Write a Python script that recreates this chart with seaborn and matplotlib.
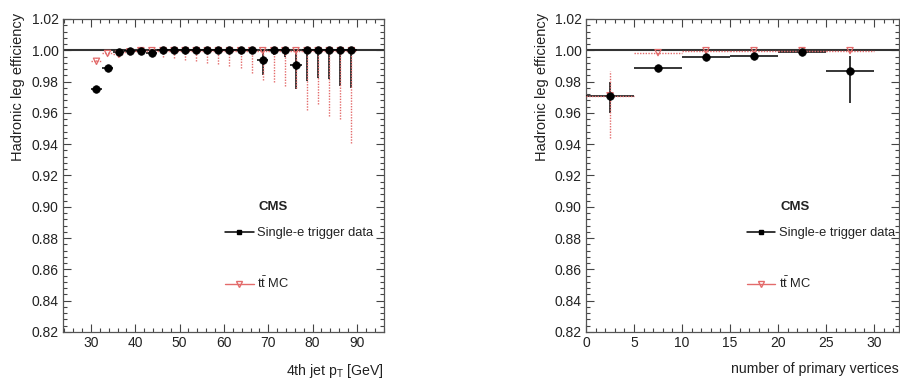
import numpy as np
import pandas as pd
import matplotlib
matplotlib.use("Agg")
import matplotlib.pyplot as plt
import seaborn as sns
from matplotlib.ticker import MultipleLocator, FormatStrFormatter
from matplotlib.lines import Line2D

# ---------------- data: left panel (4th jet pT) ----------------
pt_centers = [31.25, 33.75, 36.25, 38.75, 41.25, 43.75, 46.25, 48.75, 51.25, 53.75,
              56.25, 58.75, 61.25, 63.75, 66.25, 68.75, 71.25, 73.75, 76.25, 78.75,
              81.25, 83.75, 86.25, 88.75]
pt_halfwidth = [1.25] * 24
pt_data = [0.975, 0.989, 0.999, 0.9995, 0.9998, 0.998, 1.000, 1.000, 1.000, 1.000,
           1.000, 1.000, 1.000, 1.000, 1.000, 0.994, 1.000, 1.000, 0.9905, 1.000,
           1.000, 1.000, 1.000, 1.000]
pt_data_lo = [0.0015, 0.0012, 0.001, 0.0008, 0.0006, 0.001, 0.0003, 0.0004, 0.0005, 0.0005,
              0.0006, 0.0008, 0.001, 0.0012, 0.0015, 0.010, 0.003, 0.004, 0.0155, 0.0196,
              0.0174, 0.0185, 0.023, 0.024]
pt_data_hi = [0.0015, 0.0012, 0.001, 0.0005, 0.0002, 0.001, 0, 0, 0, 0,
              0, 0, 0, 0, 0, 0.006, 0, 0, 0.0095, 0,
              0, 0, 0, 0]
pt_mc = [0.993, 0.998, 0.9975, 0.999, 0.9998, 0.9998, 0.9998, 0.9998, 0.9998, 0.9998,
         0.9998, 0.9998, 0.9998, 0.9998, 0.9998, 0.9998, 0.9998, 0.9998, 0.9998, 0.9998,
         0.9998, 0.9998, 0.9998, 0.9998]
pt_mc_lo = [0.002, 0.001, 0.002, 0.001, 0.001, 0.002, 0.004, 0.0047, 0.0057, 0.0068,
            0.0079, 0.0083, 0.010, 0.011, 0.0143, 0.0185, 0.020, 0.0223, 0.024, 0.0377,
            0.0338, 0.042, 0.044, 0.059]
pt_mc_hi = [0.002, 0.001, 0.001, 0.0005, 0.0002, 0.0002, 0.0002, 0.0002, 0.0002, 0.0002,
            0.0002, 0.0002, 0.0002, 0.0002, 0.0002, 0.0002, 0.0002, 0.0002, 0.0002, 0.0002,
            0.0002, 0.0002, 0.0002, 0.0002]

# ---------------- data: right panel (number of primary vertices) ----------------
nv_centers = [2.5, 7.5, 12.5, 17.5, 22.5, 27.5]
nv_halfwidth = [2.5] * 6
nv_data = [0.9705, 0.9885, 0.996, 0.9965, 0.999, 0.987]
nv_data_lo = [0.0105, 0.0008, 0.0006, 0.0006, 0.0015, 0.0205]
nv_data_hi = [0.0095, 0.0008, 0.0006, 0.0006, 0.001, 0.0095]
nv_mc = [0.971, 0.9985, 0.9998, 0.9998, 0.9998, 0.9998]
nv_mc_lo = [0.027, 0.001, 0.0005, 0.0005, 0.0008, 0.001]
nv_mc_hi = [0.016, 0.0008, 0.0002, 0.0002, 0.0002, 0.0002]

DATA_LABEL = "Single-e trigger data"
MC_LABEL = r"$\mathrm{t\bar{t}}$ MC"
YLABEL = "Hadronic leg efficiency"

sns.set_theme(style="ticks")
plt.rcParams["font.family"] = ["Liberation Sans", "DejaVu Sans"]
plt.rcParams["mathtext.fontset"] = "custom"
plt.rcParams["mathtext.rm"] = "Liberation Sans"
plt.rcParams["mathtext.it"] = "Liberation Sans:italic"
plt.rcParams["mathtext.bf"] = "Liberation Sans:bold"

MC_COLOR = "#e36b6b"
TXT = "#222222"

fig = plt.figure(figsize=(9, 3.79), dpi=100)
ax1 = fig.add_axes([63 / 900, 47 / 379, 321 / 900, 313 / 379])
ax2 = fig.add_axes([586 / 900, 47 / 379, 313 / 900, 313 / 379])


def draw_panel(ax, x, xw, yd, ydlo, ydhi, ym, ymlo, ymhi):
    df_d = pd.DataFrame({"x": x, "y": yd})
    df_m = pd.DataFrame({"x": x, "y": ym})
    ax.axhline(1.0, color="#333333", lw=1.5, zorder=1)
    # data error bars
    ax.errorbar(x, yd, xerr=xw, yerr=[ydlo, ydhi], fmt="none", ecolor="black",
                elinewidth=1.1, capsize=0, zorder=3)
    # MC markers (below data markers)
    sns.scatterplot(data=df_m, x="x", y="y", ax=ax, marker="v", s=20,
                    color=MC_COLOR, zorder=4, legend=False)
    pts = ax.collections[-1]
    pts.set_facecolor("none")
    pts.set_edgecolor(MC_COLOR)
    pts.set_linewidth(0.9)
    # MC error bars (dotted)
    eb = ax.errorbar(x, ym, xerr=xw, yerr=[ymlo, ymhi], fmt="none", ecolor=MC_COLOR,
                     elinewidth=1.0, capsize=0, zorder=5)
    for lc in eb[2]:
        lc.set_linestyle((0, (1, 1)))
    # data markers
    sns.scatterplot(data=df_d, x="x", y="y", ax=ax, color="black", marker="o",
                    s=30, edgecolor="black", linewidth=0.5, zorder=6, legend=False)


draw_panel(ax1, pt_centers, pt_halfwidth, pt_data, pt_data_lo, pt_data_hi,
           pt_mc, pt_mc_lo, pt_mc_hi)
draw_panel(ax2, nv_centers, nv_halfwidth, nv_data, nv_data_lo, nv_data_hi,
           nv_mc, nv_mc_lo, nv_mc_hi)

ax1.set_xlim(23.7, 96.1)
ax2.set_xlim(0, 32.6)
ax1.xaxis.set_major_locator(MultipleLocator(10))
ax1.xaxis.set_minor_locator(MultipleLocator(2))
ax2.xaxis.set_major_locator(MultipleLocator(5))
ax2.xaxis.set_minor_locator(MultipleLocator(1))

for ax, cms_x, leg_x, xl in [(ax1, 0.654, 0.505, r"4th jet p$_{\mathrm{T}}$ [GeV]"),
                             (ax2, 0.668, 0.514, "number of primary vertices")]:
    ax.set_ylim(0.82, 1.02)
    ax.yaxis.set_major_locator(MultipleLocator(0.02))
    ax.yaxis.set_minor_locator(MultipleLocator(0.004))
    ax.yaxis.set_major_formatter(FormatStrFormatter("%.2f"))
    ax.tick_params(which="both", direction="in", top=True, right=True,
                   color="#444444", width=0.8, labelsize=10, labelcolor=TXT, pad=3)
    ax.tick_params(which="major", length=5.5)
    ax.tick_params(which="minor", length=3)
    for sp in ax.spines.values():
        sp.set_color("#555555")
        sp.set_linewidth(0.9)
    ax.set_ylabel(YLABEL, fontsize=10.5, color=TXT, loc="top")
    ax.yaxis.set_label_coords(-0.118, 1.02)
    ax.set_xlabel(xl, fontsize=10.2, color=TXT, loc="right")
    ax.xaxis.set_label_coords(1.0, -0.095)
    ax.text(cms_x, 0.40, "CMS", transform=ax.transAxes, ha="center", va="center",
            fontsize=9.5, fontweight="bold", color=TXT)
    handles = [Line2D([0], [0], color="black", lw=1.1, marker="s", ms=3.2),
               Line2D([0], [0], color=MC_COLOR, lw=1.0, marker="v", ms=4,
                      mfc="none", mec=MC_COLOR)]
    ax.legend(handles=handles, labels=[DATA_LABEL, MC_LABEL], loc="upper left",
              bbox_to_anchor=(leg_x, 0.335), frameon=False, fontsize=9.3,
              handlelength=2.2, handletextpad=0.3, labelspacing=2.85,
              borderpad=0, borderaxespad=0, labelcolor=TXT)

fig.savefig("out.png", dpi=100)
